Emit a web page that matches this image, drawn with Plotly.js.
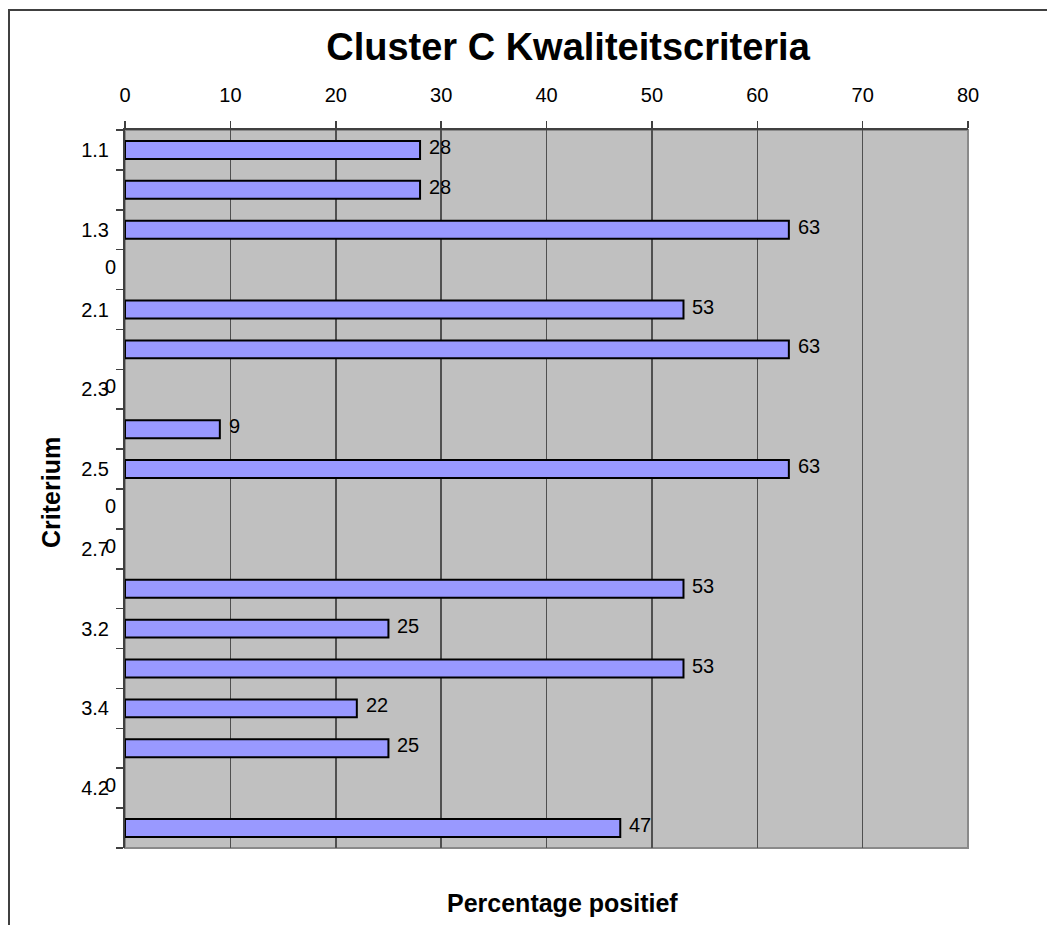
<!DOCTYPE html>
<html>
<head>
<meta charset="utf-8">
<script src="https://cdn.plot.ly/plotly-3.0.1.min.js"></script>
<style>
  html, body { margin: 0; padding: 0; background: #ffffff; }
  #chart { width: 1047px; height: 925px; }
</style>
</head>
<body>
<div id="chart"></div>
<script>
// Criteria codes, one bar per criterion (top to bottom)
const criteria = ['1.1', '1.2', '1.3', '1.4', '2.1', '2.2', '2.3', '2.4', '2.5', '2.6',
                  '2.7', '3.1', '3.2', '3.3', '3.4', '4.1', '4.2', '4.3'];
// Percentage of positive scores per criterion
const percentPositive = [28, 28, 63, 0, 53, 63, 0, 9, 63, 0, 0, 53, 25, 53, 22, 25, 0, 47];
// Only every other category label is printed on the axis
const criterionTickLabels = ['1.1', '', '1.3', '', '2.1', '', '2.3', '', '2.5', '',
                             '2.7', '', '3.2', '', '3.4', '', '4.2', ''];
const xTicks = [0, 10, 20, 30, 40, 50, 60, 70, 80];

const FONT = 'Liberation Sans, Arial, Helvetica, sans-serif';

const bars = {
  type: 'bar',
  orientation: 'h',
  y: criteria,
  x: percentPositive,
  marker: {
    color: '#9999FF',
    // no outline on empty bars
    line: { color: '#000000', width: percentPositive.map(v => (v === 0 ? 0 : 2)) }
  },
  hoverinfo: 'x+y'
};

// Value labels: right of each bar end; zero values sit left of the axis
const valueLabels = percentPositive.map((v, i) => ({
  x: v,
  y: i,
  xref: 'x',
  yref: 'y',
  text: String(v),
  showarrow: false,
  xanchor: v === 0 ? 'right' : 'left',
  xshift: v === 0 ? -7 : 7,
  yshift: 3,
  font: { family: FONT, size: 20, color: '#000000' }
}));

const axisTitles = [
  {
    text: '<b>Percentage positief</b>',
    xref: 'paper', yref: 'paper',
    x: (562 - 125) / 843, y: (848 - 903) / 718,
    xanchor: 'center', yanchor: 'middle',
    showarrow: false,
    font: { family: FONT, size: 25, color: '#000000' }
  },
  {
    text: '<b>Criterium</b>',
    xref: 'paper', yref: 'paper',
    x: (51 - 125) / 843, y: (848 - 493) / 718,
    xanchor: 'center', yanchor: 'middle',
    textangle: -90,
    showarrow: false,
    font: { family: FONT, size: 25, color: '#000000' }
  }
];

const layout = {
  width: 1047,
  height: 925,
  margin: { l: 125, r: 79, t: 130, b: 77, pad: 0 },
  paper_bgcolor: '#ffffff',
  plot_bgcolor: '#C0C0C0',
  showlegend: false,
  bargap: 0.55,
  title: {
    text: '<b>Cluster C Kwaliteitscriteria</b>',
    xref: 'container', yref: 'container',
    x: 568 / 1047, y: 1 - 47 / 925,
    xanchor: 'center', yanchor: 'middle',
    font: { family: FONT, size: 38, color: '#000000' }
  },
  xaxis: {
    side: 'top',
    range: [0, 80],
    tickvals: xTicks,
    ticktext: xTicks.map(String),
    ticks: 'outside',
    ticklen: 7,
    tickwidth: 1.5,
    tickcolor: '#404040',
    ticklabelstandoff: 11,
    showgrid: true,
    gridcolor: '#505050',
    gridwidth: 1.5,
    zeroline: false,
    showline: true,
    linecolor: '#404040',
    linewidth: 2,
    tickfont: { family: FONT, size: 20, color: '#000000' },
    fixedrange: true
  },
  yaxis: {
    type: 'category',
    autorange: 'reversed',
    tickvals: criteria,
    ticktext: criterionTickLabels,
    tickson: 'boundaries',
    ticks: 'outside',
    ticklen: 7,
    tickwidth: 1.5,
    tickcolor: '#404040',
    ticklabelstandoff: 10,
    showgrid: false,
    zeroline: false,
    showline: true,
    linecolor: '#404040',
    linewidth: 2,
    tickfont: { family: FONT, size: 20, color: '#000000' },
    fixedrange: true
  },
  shapes: [
    // plot area border (right and bottom edges)
    {
      type: 'rect', xref: 'paper', yref: 'paper',
      x0: 0, x1: 1, y0: 0, y1: 1,
      line: { color: '#8a8a8a', width: 2 },
      layer: 'below'
    },
    // chart frame
    {
      type: 'rect', xref: 'paper', yref: 'paper',
      x0: (9 - 125) / 843, x1: 1.3,
      y0: -0.3, y1: (848 - 10) / 718,
      line: { color: '#404040', width: 2 }
    }
  ],
  annotations: valueLabels.concat(axisTitles)
};

Plotly.newPlot('chart', [bars], layout, { displayModeBar: false, staticPlot: true });
</script>
</body>
</html>
